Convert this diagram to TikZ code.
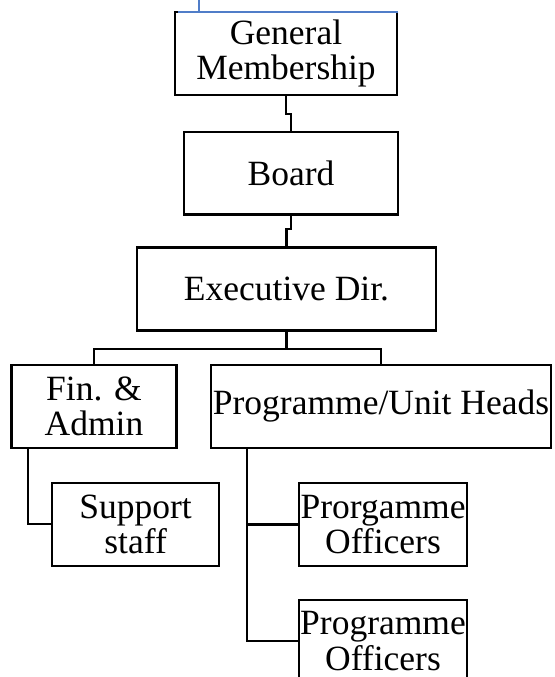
\documentclass[tikz,border=0pt]{standalone}
\usepackage{fontspec}
\setmainfont{Liberation Serif}
\definecolor{rulerblue}{RGB}{80,125,200}
\begin{document}
\begin{tikzpicture}[x=1pt,y=-1pt,
  box/.style={draw, line width=2.3pt, inner sep=0pt, align=center,
    font=\fontsize{35.5}{35.5}\selectfont},
  link/.style={line width=2.3pt}]
\useasboundingbox (0,0) rectangle (554,677);

% boxes of the chart
\node[box, minimum width=222pt, minimum height=83pt]   (gm)   at (286,53.5)   {General\\Membership};
\node[box, minimum width=214pt, minimum height=82.5pt] (board) at (291,173.25) {Board};
\node[box, minimum width=299pt, minimum height=83pt]   (exec) at (286.5,289.1) {Executive Dir.};
\node[box, minimum width=165pt, minimum height=83pt]   (fin)  at (94,406.5)   {Fin. \&\\Admin};
\node[box, minimum width=340pt, minimum height=83pt]   (prog) at (381,406.5)  {Programme/Unit Heads};
\node[box, minimum width=166.7pt, minimum height=83pt] (supp) at (135.65,524.2) {Support\\staff};
\node[box, minimum width=167.4pt, minimum height=83.3pt] (po1) at (383,524.35) {Prorgamme\\Officers};
\node[box, minimum width=167.4pt, minimum height=82pt] (po2)  at (383,641)    {Programme\\Officers};

% connectors
\draw[link] (gm.south) -- ++(0,18) -| (board.north);
\draw[link] (board.south) -- ++(0,13.5) -| (exec.north);
\draw[link] (exec.south) -- ++(0,17.3) coordinate (bar);
\draw[link] (bar) -| (fin.north);
\draw[link] (bar) -| (prog.north);
\draw[link] ([xshift=-66.3pt]fin.south) |- (supp.west);
\draw[link] ([xshift=-134.3pt]prog.south) |- (po1.west);
\draw[link] ([xshift=-134.3pt]prog.south) |- (po2.west);

% thin blue rule across the top
\draw[rulerblue, line width=1.5pt] (199,0) -- (199,12);
\draw[rulerblue, line width=1.5pt] (178,12) -- (398,12);
\end{tikzpicture}
\end{document}
